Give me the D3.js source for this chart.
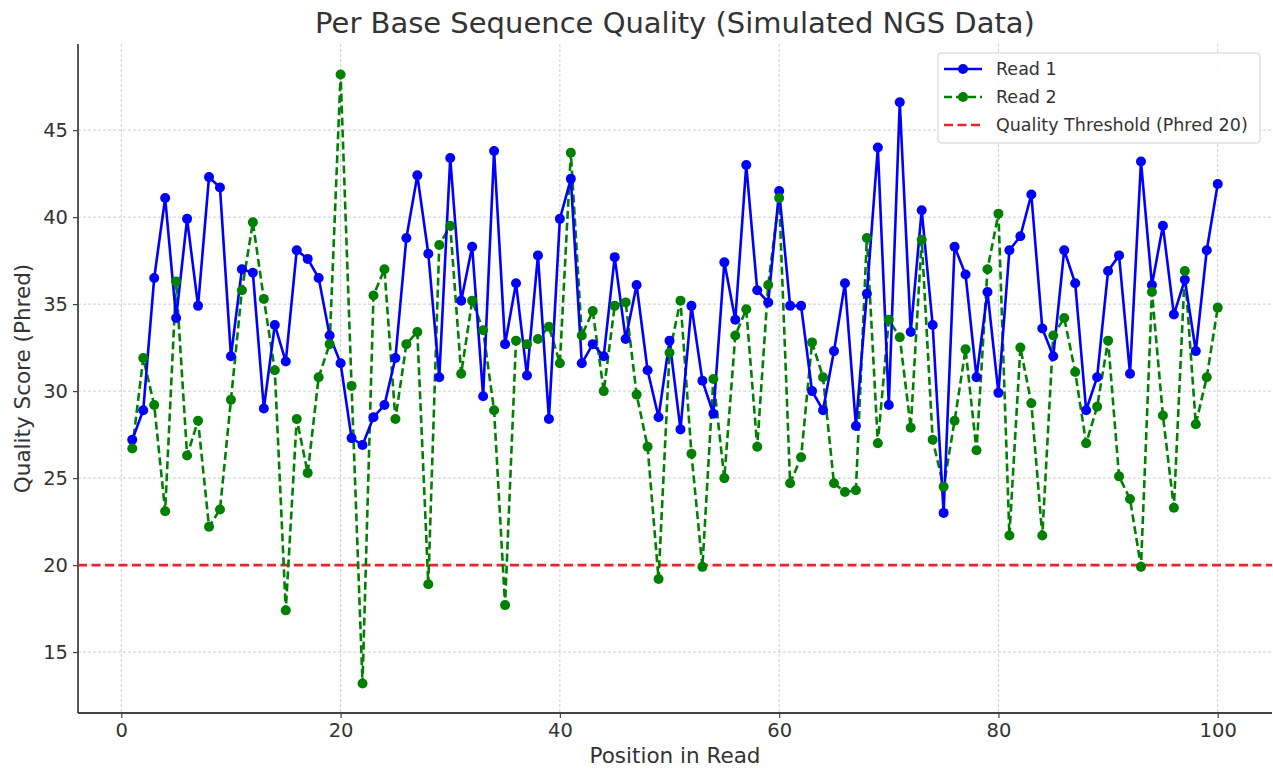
<!DOCTYPE html>
<html>
<head>
<meta charset="utf-8">
<script src="https://cdn.jsdelivr.net/npm/d3@7"></script>
<style>
  body { margin: 0; background: #fff; }
  svg { display: block; font-family: "DejaVu Sans", sans-serif; }
</style>
</head>
<body>
<svg id="chart" width="1273" height="770"></svg>
<script>
// x categories: base positions 1..100
var positions = d3.range(1, 101);

var read1 = [
  27.2, 28.9, 36.5, 41.1, 34.2, 39.9, 34.9, 42.3, 41.7, 32.0,
  37.0, 36.8, 29.0, 33.8, 31.7, 38.1, 37.6, 36.5, 33.2, 31.6,
  27.3, 26.9, 28.5, 29.2, 31.9, 38.8, 42.4, 37.9, 30.8, 43.4,
  35.2, 38.3, 29.7, 43.8, 32.7, 36.2, 30.9, 37.8, 28.4, 39.9,
  42.2, 31.6, 32.7, 32.0, 37.7, 33.0, 36.1, 31.2, 28.5, 32.9,
  27.8, 34.9, 30.6, 28.7, 37.4, 34.1, 43.0, 35.8, 35.1, 41.5,
  34.9, 34.9, 30.0, 28.9, 32.3, 36.2, 28.0, 35.6, 44.0, 29.2,
  46.6, 33.4, 40.4, 33.8, 23.0, 38.3, 36.7, 30.8, 35.7, 29.9,
  38.1, 38.9, 41.3, 33.6, 32.0, 38.1, 36.2, 28.9, 30.8, 36.9,
  37.8, 31.0, 43.2, 36.1, 39.5, 34.4, 36.4, 32.3, 38.1, 41.9
];

var read2 = [
  26.7, 31.9, 29.2, 23.1, 36.3, 26.3, 28.3, 22.2, 23.2, 29.5,
  35.8, 39.7, 35.3, 31.2, 17.4, 28.4, 25.3, 30.8, 32.7, 48.2,
  30.3, 13.2, 35.5, 37.0, 28.4, 32.7, 33.4, 18.9, 38.4, 39.5,
  31.0, 35.2, 33.5, 28.9, 17.7, 32.9, 32.7, 33.0, 33.7, 31.6,
  43.7, 33.2, 34.6, 30.0, 34.9, 35.1, 29.8, 26.8, 19.2, 32.2,
  35.2, 26.4, 19.9, 30.7, 25.0, 33.2, 34.7, 26.8, 36.1, 41.1,
  24.7, 26.2, 32.8, 30.8, 24.7, 24.2, 24.3, 38.8, 27.0, 34.1,
  33.1, 27.9, 38.7, 27.2, 24.5, 28.3, 32.4, 26.6, 37.0, 40.2,
  21.7, 32.5, 29.3, 21.7, 33.2, 34.2, 31.1, 27.0, 29.1, 32.9,
  25.1, 23.8, 19.9, 35.7, 28.6, 23.3, 36.9, 28.1, 30.8, 34.8
];

var threshold = 20;
var xTicks = [0, 20, 40, 60, 80, 100];
var yTicks = [15, 20, 25, 30, 35, 40, 45];

var seriesNames = ["Read 1", "Read 2", "Quality Threshold (Phred 20)"];

// LAYOUT
var svg = d3.select("#chart");
var plotLeft = 78, plotRight = 1272, plotTop = 44, plotBottom = 713;

var x = d3.scaleLinear().domain([-3.95, 104.95]).range([plotLeft, plotRight]);
var y = d3.scaleLinear().domain([11.5, 49.95]).range([plotBottom, plotTop]);

// GRID
var grid = svg.append("g").attr("class", "grid");
grid.selectAll(".vgrid").data(xTicks).enter().append("line")
  .attr("x1", function(d) { return x(d); })
  .attr("x2", function(d) { return x(d); })
  .attr("y1", plotTop).attr("y2", plotBottom)
  .attr("stroke", "#cfcfcf").attr("stroke-width", 1)
  .attr("stroke-dasharray", "3,2");
grid.selectAll(".hgrid").data(yTicks).enter().append("line")
  .attr("y1", function(d) { return y(d); })
  .attr("y2", function(d) { return y(d); })
  .attr("x1", plotLeft).attr("x2", plotRight)
  .attr("stroke", "#cfcfcf").attr("stroke-width", 1)
  .attr("stroke-dasharray", "3,2");

// AXES
var xAxis = svg.append("g")
  .attr("transform", "translate(0," + plotBottom + ")")
  .call(d3.axisBottom(x).tickValues(xTicks).tickSize(5).tickPadding(5));
var yAxis = svg.append("g")
  .attr("transform", "translate(" + plotLeft + ",0)")
  .call(d3.axisLeft(y).tickValues(yTicks).tickSize(5).tickPadding(5));

[xAxis, yAxis].forEach(function(a) {
  a.selectAll(".tick line").attr("stroke", "#444").attr("stroke-width", 1.2);
  a.selectAll(".tick text")
    .attr("fill", "#333")
    .style("font-size", "19.5px")
    .style("font-family", "DejaVu Sans, sans-serif");
  a.select(".domain").attr("stroke", "#444").attr("stroke-width", 1.8);
});
// only left and bottom spines, without the outer tick stubs
xAxis.select(".domain").attr("d", "M" + plotLeft + ",0H" + plotRight);
yAxis.select(".domain").attr("d", "M0," + plotTop + "V" + plotBottom);

// THRESHOLD
svg.append("line")
  .attr("x1", plotLeft).attr("x2", plotRight)
  .attr("y1", y(threshold)).attr("y2", y(threshold))
  .attr("stroke", "#e8262a").attr("stroke-width", 2.6)
  .attr("stroke-dasharray", "9,4.5");

// SERIES
var line = d3.line()
  .x(function(d, i) { return x(positions[i]); })
  .y(function(d) { return y(d); });

svg.append("path")
  .datum(read2)
  .attr("d", line)
  .attr("fill", "none")
  .attr("stroke", "#008000").attr("stroke-width", 2.6)
  .attr("stroke-dasharray", "8,4");

svg.append("path")
  .datum(read1)
  .attr("d", line)
  .attr("fill", "none")
  .attr("stroke", "#0000ff").attr("stroke-width", 2.6);

svg.append("g").selectAll("circle").data(read1).enter().append("circle")
  .attr("cx", function(d, i) { return x(positions[i]); })
  .attr("cy", function(d) { return y(d); })
  .attr("r", 5)
  .attr("fill", "#0000ff");

svg.append("g").selectAll("circle").data(read2).enter().append("circle")
  .attr("cx", function(d, i) { return x(positions[i]); })
  .attr("cy", function(d) { return y(d); })
  .attr("r", 5)
  .attr("fill", "#008000");

// TITLE & LABELS
svg.append("text")
  .attr("x", (plotLeft + plotRight) / 2).attr("y", 33)
  .attr("text-anchor", "middle")
  .attr("fill", "#333")
  .style("font-size", "29px")
  .text("Per Base Sequence Quality (Simulated NGS Data)");

svg.append("text")
  .attr("x", (plotLeft + plotRight) / 2).attr("y", 763)
  .attr("text-anchor", "middle")
  .attr("fill", "#333")
  .style("font-size", "21.5px")
  .text("Position in Read");

svg.append("text")
  .attr("transform", "translate(30," + ((plotTop + plotBottom) / 2) + ") rotate(-90)")
  .attr("text-anchor", "middle")
  .attr("fill", "#333")
  .style("font-size", "21.5px")
  .text("Quality Score (Phred)");

// LEGEND
var legend = svg.append("g").attr("transform", "translate(938,53)");
legend.append("rect")
  .attr("width", 322).attr("height", 90)
  .attr("rx", 3).attr("ry", 3)
  .attr("fill", "rgba(255,255,255,0.85)")
  .attr("stroke", "#d0d0d0").attr("stroke-width", 1);

var legendStyles = [
  { color: "#0000ff", dash: null, marker: true },
  { color: "#008000", dash: "8,4", marker: true },
  { color: "#e8262a", dash: "9,4.5", marker: false }
];

seriesNames.forEach(function(name, i) {
  var g = legend.append("g").attr("transform", "translate(0," + (16 + i * 28) + ")");
  var st = legendStyles[i];
  g.append("line")
    .attr("x1", 6).attr("x2", 44)
    .attr("stroke", st.color).attr("stroke-width", 2.6)
    .attr("stroke-dasharray", st.dash);
  if (st.marker) {
    g.append("circle").attr("cx", 25).attr("r", 5).attr("fill", st.color);
  }
  g.append("text")
    .attr("x", 58).attr("dy", "0.35em")
    .attr("fill", "#333")
    .style("font-size", "17.5px")
    .text(name);
});
</script>
</body>
</html>
